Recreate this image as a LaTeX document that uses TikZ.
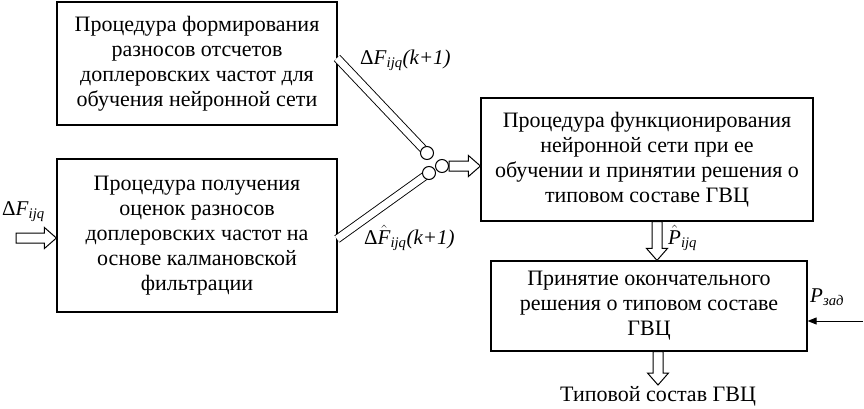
\documentclass[tikz,border=0pt]{standalone}
\usepackage{fontspec}
\setmainfont{Liberation Serif}
\usetikzlibrary{arrows.meta,calc}

\newcommand{\vrb}[2]{\textit{#1}\textsubscript{\textit{#2}}}
\newcommand{\hatvr}[2]{$\hat{\textit{#1}}$\textsubscript{\textit{#2}}}
% полая стрелка от #1 к #2
\newcommand{\fatarrow}[2]{%
  \draw[hollow] let \p1=($(#2)-(#1)$), \n1={atan2(\y1,\x1)}, \n2={veclen(\x1,\y1)} in
    [shift={(#1)}, rotate=\n1]
    (0,-5) -- (\n2-12,-5) -- (\n2-12,-10.5) -- (\n2,0) -- (\n2-12,10.5) -- (\n2-12,5) -- (0,5) -- cycle;}

\tikzset{
  block/.style={draw, line width=1.2pt, align=center, inner sep=0pt},
  hollow/.style={draw, fill=white, line width=1pt, line join=miter},
  tube/.style={double, double distance=7pt, line width=0.9pt},
  joint/.style={draw, circle, fill=white, line width=1pt, minimum size=13pt, inner sep=0pt},
  lbl/.style={inner sep=0pt, font=\fontsize{21}{24}\selectfont}
}

\begin{document}
\begin{tikzpicture}[x=1pt, y=-1pt, font=\fontsize{22}{25}\selectfont]
  \useasboundingbox (0,0) rectangle (864,409);

  % Блоки
  \node[block, minimum width=280pt, minimum height=123pt] (form) at (197,63.5)
    {Процедура формирования\\разносов отсчетов\\доплеровских частот для\\обучения нейронной сети};
  \node[block, minimum width=280pt, minimum height=153pt] (kalm) at (197,235.5)
    {Процедура получения\\оценок разносов\\доплеровских частот на\\основе калмановской\\фильтрации};
  \node[block, minimum width=332pt, minimum height=123pt] (neur) at (647,159.5)
    {Процедура функционирования\\нейронной сети при ее\\обучении и принятии решения о\\типовом составе ГВЦ};
  \node[block, minimum width=316pt, minimum height=90pt] (fin) at (649,306)
    {Принятие окончательного\\решения о типовом составе\\ГВЦ};

  % Точки стыка
  \coordinate (t1) at (337,58);
  \coordinate (t2) at (337,239);
  \coordinate (j1) at (427,153);
  \coordinate (j2) at (429,173);
  \coordinate (j3) at (442,166);
  \coordinate (in) at (16,238);
  \coordinate (pz) at (863,321);
  \coordinate (a1) at (657,0);
  \coordinate (out) at (658,385);

  % Трубки
  \draw[tube] (t1) -- (j1);
  \draw[tube] (t2) -- (j2);
  \node[joint] (c1) at (j1) {};
  \node[joint] (c2) at (j2) {};
  \node[joint] (c3) at (j3) {};

  % Стрелки
  \fatarrow{in}{kalm.west |- in}
  \fatarrow{c3.east}{neur.west |- c3}
  \fatarrow{neur.south -| a1}{fin.north -| a1}
  \fatarrow{fin.south -| out}{out}
  \draw[-{Triangle[length=9pt, width=7pt]}, line width=1pt] (pz) -- (fin.east |- pz);

  % Подписи
  \node[lbl, anchor=west] (l1) at (360,60) {Δ\vrb{F}{ijq}\textit{(k+1)}};
  \node[lbl, anchor=west] (l2) at (364,238) {Δ\hatvr{F}{ijq}\textit{(k+1)}};
  \node[lbl, anchor=west] (l3) at (2,212) {Δ\vrb{F}{ijq}};
  \node[lbl, anchor=west] (l4) at (668,238) {\hatvr{P}{ijq}};
  \node[lbl, anchor=west] (l5) at (810,297) {\vrb{P}{зад}};
  \node (res) at (658,396) {Типовой состав ГВЦ};
\end{tikzpicture}
\end{document}
